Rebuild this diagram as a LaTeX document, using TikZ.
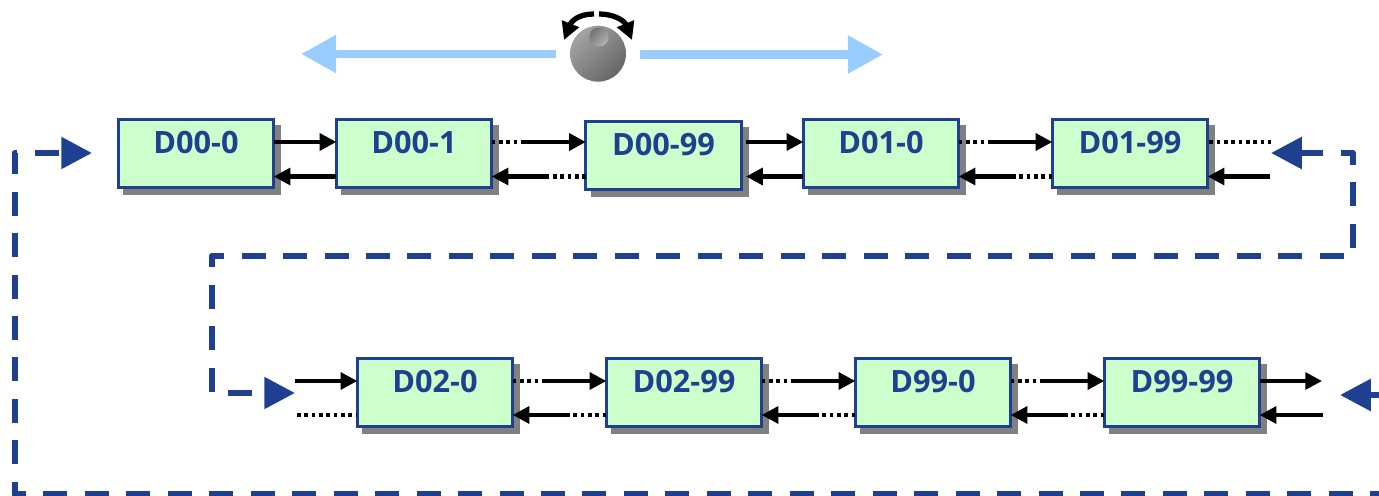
\documentclass[tikz,border=0pt]{standalone}
\usepackage{fontspec}
\setmainfont{Open Sans}
\usetikzlibrary{arrows.meta,shadows}
\definecolor{navy}{HTML}{1F4091}
\definecolor{mint}{HTML}{CCFFCC}
\definecolor{shadowgray}{HTML}{808080}
\definecolor{sky}{HTML}{99CCFF}
\tikzset{
  x=0.02cm,y=-0.02cm,
  memblock/.style={draw=navy,fill=mint,line width=1.7pt,inner sep=0pt,outer sep=0pt,
    minimum width=88.4pt,minimum height=38.4pt,text=navy,
    font=\fontsize{17.5}{20}\selectfont\bfseries,text height=12.5pt,text depth=12.5pt,
    general shadow={fill=shadowgray,draw=shadowgray,shadow xshift=3.5pt,shadow yshift=-3.6pt}},
  solidlink/.style={draw=black,line width=2.3pt,-{Triangle[length=9.5pt,width=9.5pt]}},
  dotlink/.style={draw=black,line width=2.3pt,dash pattern=on 2.1pt off 2.07pt},
  loopdash/.style={draw=navy,line width=3.5pt,line join=round,dash pattern=on 13.66pt off 9.94pt},
  looptip/.tip={Triangle[length=17.5pt,width=17.5pt]},
  widearrow/.style={draw=sky,line width=4.8pt,-{Triangle[length=20pt,width=20.5pt]}},
  turnarrow/.style={draw=black,line width=3pt,-{Triangle[length=10pt,width=10pt]}}
}
\newcommand{\chainlink}[4]{% from, to, upper row, lower row
  \draw[dotlink] (#1.east |- #3) -- ++(30,0) coordinate (m#1);
  \draw[solidlink] (m#1) -- (#2.west |- #3);
  \draw[dotlink] (#2.west |- #4) -- ++(-40,0) coordinate (n#1);
  \draw[solidlink] (n#1) -- (#1.east |- #4);
}
\begin{document}
\begin{tikzpicture}
\useasboundingbox (0,0) rectangle (1379,496);
\clip (0,0) rectangle (1379,496);
\coordinate (upA) at (0,142);
\coordinate (lowA) at (0,176.5);
\coordinate (upB) at (0,381);
\coordinate (lowB) at (0,415);

\node[memblock] (a0) at (196,153.5) {D00-0};
\node[memblock] (a1) at (414,153.5) {D00-1};
\node[memblock] (a2) at (663.5,155.5) {D00-99};
\node[memblock] (a3) at (881,153.5) {D01-0};
\node[memblock] (a4) at (1130,153.5) {D01-99};
\node[memblock] (b0) at (435,392.5) {D02-0};
\node[memblock] (b1) at (684,392.5) {D02-99};
\node[memblock] (b2) at (933,392.5) {D99-0};
\node[memblock] (b3) at (1182,392.5) {D99-99};

% upper row links
\draw[solidlink] (a0.east |- upA) -- (a1.west |- upA);
\draw[solidlink] (a1.west |- lowA) -- (a0.east |- lowA);
\chainlink{a1}{a2}{upA}{lowA}
\draw[solidlink] ([xshift=2.8pt]a2.east |- upA) -- (a3.west |- upA);
\draw[solidlink] (a3.west |- lowA) -- ([xshift=2.8pt]a2.east |- lowA);
\chainlink{a3}{a4}{upA}{lowA}
\coordinate (a4up) at (1271,142);
\coordinate (a4low) at (1270,176.5);
\draw[dotlink] ([xshift=1pt]a4.east |- upA) -- (a4up);
\draw[solidlink] (a4low) -- (a4.east |- lowA);

% lower row links
\coordinate (b0up) at (295,381);
\coordinate (b0low) at (297,415);
\draw[solidlink] (b0up) -- (b0.west |- upB);
\draw[dotlink] (b0low) -- (b0.west |- lowB);
\chainlink{b0}{b1}{upB}{lowB}
\chainlink{b1}{b2}{upB}{lowB}
\chainlink{b2}{b3}{upB}{lowB}
\coordinate (b3up) at (1322,381);
\coordinate (b3low) at (1323,415);
\draw[solidlink] (b3.east |- upB) -- (b3up);
\draw[solidlink] (b3low) -- (b3.east |- lowB);

% dashed wrap-around loops
\coordinate (tipA) at (92,153);
\coordinate (tipB) at (1271,153);
\coordinate (tipC) at (295,393);
\coordinate (tipD) at (1340,395);
\coordinate (edgeA) at (1379,494.5);
\coordinate (edgeD) at (1379,395);
\draw[loopdash,dash phase=21.4pt,{looptip}-] (tipA) -- (14.6,153) -- (14.6,494.5) -- (edgeA);
\draw[loopdash,dash phase=0.6pt,{looptip}-{looptip}] (tipB) -- (1353,153) -- (1353,255.7) -- (211.7,255.7) -- (211.7,393) -- (tipC);
\draw[loopdash,solid,{looptip}-] (tipD) -- (edgeD);

% direction arrows and knob
\coordinate (knobC) at (598,53.7);
\coordinate (leftS) at (556,54);
\coordinate (leftE) at (301,54);
\coordinate (rightS) at (640,54.5);
\coordinate (rightE) at (883,54.5);
\draw[widearrow] (leftS) -- (leftE);
\draw[widearrow] (rightS) -- (rightE);
\shade[top color=black!36,bottom color=black!60,shading angle=45] (knobC) circle [radius=28];
\shade[top color=black!55,bottom color=black!30,shading angle=45] (599,37) circle [radius=9.7];
\draw[turnarrow] (594,14) .. controls (580,14) and (572,20) .. (564,40);
\draw[turnarrow] (599,14) .. controls (613,14) and (624,20) .. (632,40);
\end{tikzpicture}
\end{document}
